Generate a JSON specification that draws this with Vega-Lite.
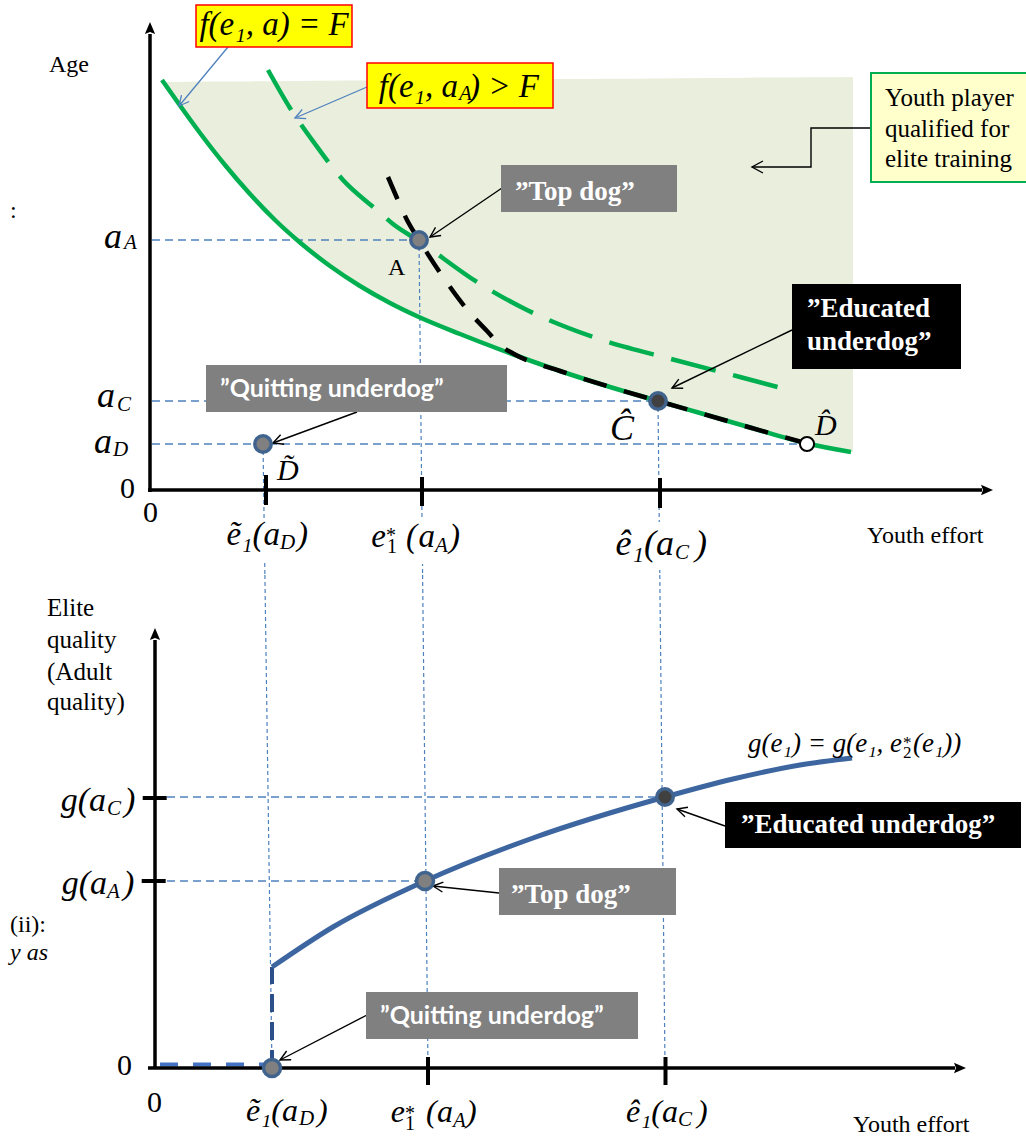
{
"$schema": "https://vega.github.io/schema/vega-lite/v6.json",
"background": "white",
"padding": 0,
"spacing": 0,
"bounds": "flush",
"config": {"view": {"stroke": null}},
"vconcat": [
{
"width": 1026, "height": 575,
"encoding": {
 "x": {"field": "x", "type": "quantitative", "scale": {"domain": [-15, 87.6], "nice": false, "zero": false}, "axis": null},
 "y": {"field": "y", "type": "quantitative", "scale": {"domain": [-8.5, 49], "nice": false, "zero": false}, "axis": null}
},
"layer": [
 {"data": {"values": [
  {"x":1.6,"y":40.4,"y2":40.8},{"x":3.0,"y":38.45,"y2":40.81},{"x":5.0,"y":35.7,"y2":40.82},{"x":7.5,"y":32.5,"y2":40.84},
  {"x":10.0,"y":29.6,"y2":40.86},{"x":12.5,"y":27.0,"y2":40.88},{"x":15.0,"y":24.75,"y2":40.9},{"x":18.0,"y":22.4,"y2":40.92},
  {"x":21.0,"y":20.4,"y2":40.94},{"x":24.0,"y":18.7,"y2":40.96},{"x":27.0,"y":17.25,"y2":40.98},{"x":31.0,"y":15.6,"y2":41.01},
  {"x":35.0,"y":14.05,"y2":41.04},{"x":41.0,"y":11.9,"y2":41.09},{"x":46.0,"y":10.3,"y2":41.12},{"x":50.8,"y":8.9,"y2":41.16},
  {"x":55.0,"y":7.7,"y2":41.19},{"x":60.0,"y":6.25,"y2":41.23},{"x":65.7,"y":4.65,"y2":41.27},{"x":70.3,"y":3.78,"y2":41.3}]},
  "mark": {"type": "area", "color": "#EAEFDD", "interpolate": "monotone"},
  "encoding": {"y2": {"field": "y2"}}},
 {"data": {"values": [
  {"x":0.2,"y":25.0,"x2":26.9,"y2":25.0},{"x":0.2,"y":8.9,"x2":50.8,"y2":8.9},{"x":0.2,"y":4.6,"x2":65.0,"y2":4.6}]},
  "mark": {"type": "rule", "color": "#4F81BD", "strokeWidth": 1.3, "strokeDash": [8, 5]},
  "encoding": {"x2": {"field": "x2"}, "y2": {"field": "y2"}}},
 {"data": {"values": [
  {"x":11.3,"y":4.6,"x2":11.49,"y2":-8.5},{"x":26.9,"y":25.0,"x2":27.26,"y2":-8.5},{"x":50.8,"y":8.9,"x2":50.98,"y2":-8.5}]},
  "mark": {"type": "rule", "color": "#4F81BD", "strokeWidth": 1.2, "strokeDash": [4, 3]},
  "encoding": {"x2": {"field": "x2"}, "y2": {"field": "y2"}}},
 {"data": {"values": [
  {"x":6.8,"x2":16.0,"y":-3.0,"y2":-7.2},{"x":21.5,"x2":31.5,"y":-3.0,"y2":-7.4},{"x":45.0,"x2":56.2,"y":-3.2,"y2":-8.0}]},
  "mark": {"type": "rect", "fill": "white"},
  "encoding": {"x2": {"field": "x2"}, "y2": {"field": "y2"}}},
 {"data": {"values": [
  {"x":1.2,"y":41.0},{"x":3.0,"y":38.45},{"x":5.0,"y":35.7},{"x":7.5,"y":32.5},{"x":10.0,"y":29.6},{"x":12.5,"y":27.0},
  {"x":15.0,"y":24.75},{"x":18.0,"y":22.4},{"x":21.0,"y":20.4},{"x":24.0,"y":18.7},{"x":27.0,"y":17.25},{"x":31.0,"y":15.6},
  {"x":35.0,"y":14.05},{"x":41.0,"y":11.9},{"x":46.0,"y":10.3},{"x":50.8,"y":8.9},{"x":55.0,"y":7.7},{"x":60.0,"y":6.25},
  {"x":65.7,"y":4.65},{"x":70.1,"y":3.8}]},
  "mark": {"type": "line", "color": "#00B050", "strokeWidth": 4.5, "interpolate": "monotone"}},
 {"data": {"values": [
  {"x":11.8,"y":42.0},{"x":14.0,"y":38.2},{"x":16.5,"y":34.6},{"x":19.3,"y":31.0},{"x":22.8,"y":27.9},{"x":24.3,"y":26.6},
  {"x":26.9,"y":24.9},{"x":32.7,"y":20.8},{"x":37.7,"y":18.0},{"x":44.3,"y":15.3},{"x":52.5,"y":13.0},{"x":59.0,"y":11.3},{"x":63.5,"y":10.1}]},
  "mark": {"type": "line", "color": "#00B050", "strokeWidth": 4.5, "interpolate": "monotone", "strokeDash": [46, 18]}},
 {"data": {"values": [
  {"x":23.8,"y":31.3},{"x":24.7,"y":29.2},{"x":25.7,"y":27.0},{"x":26.9,"y":25.0},{"x":29.3,"y":21.3},{"x":32.0,"y":17.7},
  {"x":33.7,"y":15.9},{"x":35.0,"y":14.5},{"x":36.5,"y":13.55},{"x":41.0,"y":11.9},{"x":46.0,"y":10.3},{"x":50.8,"y":8.9},
  {"x":55.0,"y":7.7},{"x":60.0,"y":6.25},{"x":65.7,"y":4.65}]},
  "mark": {"type": "line", "color": "black", "strokeWidth": 4.5, "interpolate": "monotone", "strokeDash": [24, 18]}},
 {"data": {"values": [
  {"x":0,"y":-0.2,"x2":0,"y2":45.6},{"x":-0.2,"y":0,"x2":83.2,"y2":0}]},
  "mark": {"type": "rule", "color": "black", "strokeWidth": 3.5},
  "encoding": {"x2": {"field": "x2"}, "y2": {"field": "y2"}}},
 {"data": {"values": [
  {"x":11.6,"y":-1.5,"x2":11.6,"y2":1.5},{"x":27.2,"y":-1.6,"x2":27.2,"y2":1.3},{"x":51.0,"y":-1.8,"x2":51.0,"y2":1.2}]},
  "mark": {"type": "rule", "color": "black", "strokeWidth": 4},
  "encoding": {"x2": {"field": "x2"}, "y2": {"field": "y2"}}},
 {"data": {"values": [{"x":0,"y":45.66}]},
  "mark": {"type": "point", "shape": "M0,-1L0.45,0.05L0,-0.12L-0.45,0.05Z", "size": 520, "filled": true, "color": "black", "opacity": 1}},
 {"data": {"values": [{"x":83.16,"y":0}]},
  "mark": {"type": "point", "shape": "M1,0L-0.05,0.45L0.12,0L-0.05,-0.45Z", "size": 520, "filled": true, "color": "black", "opacity": 1}},
 {"data": {"values": [
  {"id":"a1","o":1,"x":35.2,"y":30.2},{"id":"a1","o":2,"x":28.0,"y":25.3},
  {"id":"h1","o":1,"x":29.11,"y":25.45},{"id":"h1","o":2,"x":28.0,"y":25.3},{"id":"h1","o":3,"x":28.55,"y":26.27},
  {"id":"a4","o":1,"x":72.1,"y":36.2},{"id":"a4","o":2,"x":66.1,"y":36.2},{"id":"a4","o":3,"x":66.1,"y":32.3},{"id":"a4","o":4,"x":60.2,"y":32.3},
  {"id":"h4","o":1,"x":61.3,"y":32.9},{"id":"h4","o":2,"x":60.2,"y":32.3},{"id":"h4","o":3,"x":61.3,"y":31.7},
  {"id":"a5","o":1,"x":64.2,"y":16.0},{"id":"a5","o":2,"x":52.2,"y":10.2},
  {"id":"h5","o":1,"x":53.32,"y":10.18},{"id":"h5","o":2,"x":52.2,"y":10.2},{"id":"h5","o":3,"x":52.88,"y":11.09},
  {"id":"a6","o":1,"x":20.7,"y":7.8},{"id":"a6","o":2,"x":12.3,"y":4.7},
  {"id":"h6","o":1,"x":13.41,"y":4.58},{"id":"h6","o":2,"x":12.3,"y":4.7},{"id":"h6","o":3,"x":13.06,"y":5.52}]},
  "mark": {"type": "line", "color": "black", "strokeWidth": 1.4},
  "encoding": {"detail": {"field": "id"}, "order": {"field": "o"}}},
 {"data": {"values": [
  {"id":"a2","o":1,"x":7.8,"y":44.3},{"id":"a2","o":2,"x":2.9,"y":38.4},
  {"id":"h2","o":1,"x":3.92,"y":38.85},{"id":"h2","o":2,"x":2.9,"y":38.4},{"id":"h2","o":3,"x":3.15,"y":39.49},
  {"id":"a3","o":1,"x":21.7,"y":40.3},{"id":"a3","o":2,"x":14.5,"y":37.2},
  {"id":"h3","o":1,"x":15.62,"y":37.14},{"id":"h3","o":2,"x":14.5,"y":37.2},{"id":"h3","o":3,"x":15.22,"y":38.05}]},
  "mark": {"type": "line", "color": "#4F81BD", "strokeWidth": 1.3},
  "encoding": {"detail": {"field": "id"}, "order": {"field": "o"}}},
 {"data": {"values": [
  {"x":4.6,"x2":20.2,"y":48.5,"y2":44.3},{"x":21.7,"x2":40.3,"y":42.7,"y2":38.2}]},
  "mark": {"type": "rect", "fill": "#FFFF00", "stroke": "#FF0000", "strokeWidth": 1.5},
  "encoding": {"x2": {"field": "x2"}, "y2": {"field": "y2"}}},
 {"data": {"values": [{"x":72.1,"x2":90,"y":41.7,"y2":30.8}]},
  "mark": {"type": "rect", "fill": "#FFFFCC", "stroke": "#00B050", "strokeWidth": 2, "clip": true},
  "encoding": {"x2": {"field": "x2"}, "y2": {"field": "y2"}}},
 {"data": {"values": [{"x":35.1,"x2":52.7,"y":32.5,"y2":27.8},{"x":5.6,"x2":35.7,"y":12.5,"y2":7.8}]},
  "mark": {"type": "rect", "fill": "#808080"},
  "encoding": {"x2": {"field": "x2"}, "y2": {"field": "y2"}}},
 {"data": {"values": [{"x":64.2,"x2":81.1,"y":20.6,"y2":12.1}]},
  "mark": {"type": "rect", "fill": "black"},
  "encoding": {"x2": {"field": "x2"}, "y2": {"field": "y2"}}},
 {"data": {"values": [{"x":26.9,"y":25.0},{"x":11.3,"y":4.6}]},
  "mark": {"type": "point", "shape": "circle", "size": 270, "filled": true, "fill": "#808080", "stroke": "#41648F", "strokeWidth": 3.5, "opacity": 1}},
 {"data": {"values": [{"x":50.8,"y":8.9}]},
  "mark": {"type": "point", "shape": "circle", "size": 270, "filled": true, "fill": "#404040", "stroke": "#41648F", "strokeWidth": 3.5, "opacity": 1}},
 {"data": {"values": [{"x":65.7,"y":4.6}]},
  "mark": {"type": "point", "shape": "circle", "size": 200, "filled": true, "fill": "white", "stroke": "black", "strokeWidth": 2, "opacity": 1}},
 {"data": {"values": [{"x":30.8,"y":39.3,"t":"f(e₁, a"},{"x":13.0,"y":-5.5,"t":"ẽ₁(a"},{"x":23.6,"y":-5.7,"t":"e"},{"x":28.5,"y":-5.7,"t":"a"}]},
  "mark": {"type": "text", "font": "Liberation Serif", "fontStyle": "italic", "fontSize": 33, "align": "right", "baseline": "alphabetic", "color": "black"},
  "encoding": {"text": {"field": "t"}}},
 {"data": {"values": [{"x":31.9,"y":39.3,"t":") > F"},{"x":14.7,"y":-5.5,"t":")"},{"x":29.9,"y":-5.7,"t":")"},{"x":25.6,"y":-5.7,"t":"("}]},
  "mark": {"type": "text", "font": "Liberation Serif", "fontStyle": "italic", "fontSize": 33, "align": "left", "baseline": "alphabetic", "color": "black"},
  "encoding": {"text": {"field": "t"}}},
 {"data": {"values": [{"x":12.4,"y":45.5,"t":"f(e₁, a) = F"}]},
  "mark": {"type": "text", "font": "Liberation Serif", "fontStyle": "italic", "fontSize": 33, "align": "center", "baseline": "alphabetic", "color": "black"},
  "encoding": {"text": {"field": "t"}}},
 {"data": {"values": [{"x":-2.8,"y":24.2,"t":"a"},{"x":-3.5,"y":8.3,"t":"a"},{"x":-3.8,"y":3.7,"t":"a"},{"x":52.4,"y":-6.5,"t":"ê₁(a"}]},
  "mark": {"type": "text", "font": "Liberation Serif", "fontStyle": "italic", "fontSize": 36, "align": "right", "baseline": "alphabetic", "color": "black"},
  "encoding": {"text": {"field": "t"}}},
 {"data": {"values": [{"x":46.0,"y":5.0,"t":"Ĉ"},{"x":54.5,"y":-6.5,"t":")"}]},
  "mark": {"type": "text", "font": "Liberation Serif", "fontStyle": "italic", "fontSize": 36, "align": "left", "baseline": "alphabetic", "color": "black"},
  "encoding": {"text": {"field": "t"}}},
 {"data": {"values": [{"x":30.9,"y":39.0,"t":"A"},{"x":-2.6,"y":24.1,"t":"A"},{"x":-3.3,"y":7.9,"t":"C"},{"x":-3.7,"y":3.4,"t":"D"},{"x":13.0,"y":-5.9,"t":"D"},{"x":28.5,"y":-6.2,"t":"A"},{"x":52.5,"y":-6.9,"t":"C"}]},
  "mark": {"type": "text", "font": "Liberation Serif", "fontStyle": "italic", "fontSize": 21, "align": "left", "baseline": "alphabetic", "color": "black"},
  "encoding": {"text": {"field": "t"}}},
 {"data": {"values": [{"x":66.5,"y":5.5,"t":"D̂"},{"x":12.7,"y":1.0,"t":"D̃"}]},
  "mark": {"type": "text", "font": "Liberation Serif", "fontStyle": "italic", "fontSize": 30, "align": "left", "baseline": "alphabetic", "color": "black"},
  "encoding": {"text": {"field": "t"}}},
 {"data": {"values": [{"x":23.6,"y":-5.2,"t":"*"},{"x":23.7,"y":-6.3,"t":"1"}]},
  "mark": {"type": "text", "font": "Liberation Serif", "fontSize": 20, "align": "left", "baseline": "alphabetic", "color": "black"},
  "encoding": {"text": {"field": "t"}}},
 {"data": {"values": [{"x":-3.0,"y":-0.8,"t":"0"},{"x":-0.7,"y":-3.2,"t":"0"}]},
  "mark": {"type": "text", "font": "Liberation Serif", "fontSize": 30, "align": "left", "baseline": "alphabetic", "color": "black"},
  "encoding": {"text": {"field": "t"}}},
 {"data": {"values": [{"x":-10.1,"y":41.8,"t":"Age"},{"x":23.8,"y":21.5,"t":"A"},{"x":71.7,"y":-5.3,"t":"Youth effort"},{"x":-14,"y":27.2,"t":":"}]},
  "mark": {"type": "text", "font": "Liberation Serif", "fontSize": 24, "align": "left", "baseline": "alphabetic", "color": "black"},
  "encoding": {"text": {"field": "t"}}},
 {"data": {"values": [{"x":73.5,"y":38.4,"t":"Youth player"},{"x":73.5,"y":35.3,"t":"qualified for"},{"x":73.5,"y":32.3,"t":"elite training"}]},
  "mark": {"type": "text", "font": "Liberation Serif", "fontSize": 25, "align": "left", "baseline": "alphabetic", "color": "black", "clip": true},
  "encoding": {"text": {"field": "t"}}},
 {"data": {"values": [{"x":36.5,"y":29.0,"t":"”Top dog”"},{"x":65.7,"y":17.3,"t":"”Educated"},{"x":65.7,"y":14.0,"t":"underdog”"}]},
  "mark": {"type": "text", "font": "Liberation Serif", "fontWeight": "bold", "fontSize": 27, "align": "left", "baseline": "alphabetic", "color": "white"},
  "encoding": {"text": {"field": "t"}}},
 {"data": {"values": [{"x":7.0,"y":9.3,"t":"”Quitting underdog”"}]},
  "mark": {"type": "text", "font": "Lato", "fontWeight": "bold", "fontSize": 25, "align": "left", "baseline": "alphabetic", "color": "white"},
  "encoding": {"text": {"field": "t"}}}
]
},
{
"width": 1026, "height": 565,
"encoding": {
 "x": {"field": "x", "type": "quantitative", "scale": {"domain": [-15.7, 86.9], "nice": false, "zero": false}, "axis": null},
 "y": {"field": "y", "type": "quantitative", "scale": {"domain": [-7.2, 49.3], "nice": false, "zero": false}, "axis": null}
},
"layer": [
 {"data": {"values": [{"x":1.0,"y":27.1,"x2":50.8,"y2":27.1},{"x":1.0,"y":18.7,"x2":26.8,"y2":18.7}]},
  "mark": {"type": "rule", "color": "#4F81BD", "strokeWidth": 1.3, "strokeDash": [8, 5]},
  "encoding": {"x2": {"field": "x2"}, "y2": {"field": "y2"}}},
 {"data": {"values": [{"x":10.79,"y":49.3,"x2":11.5,"y2":0},{"x":26.56,"y":49.3,"x2":27.1,"y2":0},{"x":50.28,"y":49.3,"x2":50.8,"y2":0.3}]},
  "mark": {"type": "rule", "color": "#4F81BD", "strokeWidth": 1.2, "strokeDash": [4, 3]},
  "encoding": {"x2": {"field": "x2"}, "y2": {"field": "y2"}}},
 {"data": {"values": [{"x":11.5,"y":0,"x2":11.5,"y2":10.1}]},
  "mark": {"type": "rule", "color": "#2B4F87", "strokeWidth": 4, "strokeDash": [18, 10]},
  "encoding": {"x2": {"field": "x2"}, "y2": {"field": "y2"}}},
 {"data": {"values": [{"x":0.3,"y":0.35,"x2":11.5,"y2":0.35}]},
  "mark": {"type": "rule", "color": "#4472C4", "strokeWidth": 4, "strokeDash": [18, 15]},
  "encoding": {"x2": {"field": "x2"}, "y2": {"field": "y2"}}},
 {"data": {"values": [
  {"x":11.5,"y":10.1},{"x":17.6,"y":14.1},{"x":26.8,"y":18.7},{"x":37.6,"y":23.0},{"x":50.8,"y":27.1},{"x":57.6,"y":28.9},{"x":64.3,"y":30.3},{"x":69.5,"y":31.0}]},
  "mark": {"type": "line", "color": "#3D66A0", "strokeWidth": 5, "interpolate": "monotone"}},
 {"data": {"values": [{"x":-0.2,"y":0,"x2":-0.2,"y2":42.8},{"x":-0.9,"y":0,"x2":79.8,"y2":0}]},
  "mark": {"type": "rule", "color": "black", "strokeWidth": 3.5},
  "encoding": {"x2": {"field": "x2"}, "y2": {"field": "y2"}}},
 {"data": {"values": [
  {"x":-1.43,"y":27.0,"x2":0.97,"y2":27.0},{"x":-1.53,"y":18.7,"x2":0.87,"y2":18.7},{"x":27.1,"y":-1.7,"x2":27.1,"y2":1.1},{"x":50.85,"y":-1.7,"x2":50.85,"y2":1.1}]},
  "mark": {"type": "rule", "color": "black", "strokeWidth": 4},
  "encoding": {"x2": {"field": "x2"}, "y2": {"field": "y2"}}},
 {"data": {"values": [{"x":-0.2,"y":42.86}]},
  "mark": {"type": "point", "shape": "M0,-1L0.45,0.05L0,-0.12L-0.45,0.05Z", "size": 520, "filled": true, "color": "black", "opacity": 1}},
 {"data": {"values": [{"x":79.76,"y":0}]},
  "mark": {"type": "point", "shape": "M1,0L-0.05,0.45L0.12,0L-0.05,-0.45Z", "size": 520, "filled": true, "color": "black", "opacity": 1}},
 {"data": {"values": [
  {"id":"b7","o":1,"x":56.8,"y":24.2},{"id":"b7","o":2,"x":52.0,"y":25.9},
  {"id":"g7","o":1,"x":52.8,"y":25.12},{"id":"g7","o":2,"x":52.0,"y":25.9},{"id":"g7","o":3,"x":53.1,"y":26.08},
  {"id":"b8","o":1,"x":34.2,"y":17.5},{"id":"b8","o":2,"x":27.6,"y":18.2},
  {"id":"g8","o":1,"x":28.54,"y":17.6},{"id":"g8","o":2,"x":27.6,"y":18.2},{"id":"g8","o":3,"x":28.64,"y":18.59},
  {"id":"b9","o":1,"x":21.0,"y":5.3},{"id":"b9","o":2,"x":12.3,"y":0.8},
  {"id":"g9","o":1,"x":13.42,"y":0.82},{"id":"g9","o":2,"x":12.3,"y":0.8},{"id":"g9","o":3,"x":12.96,"y":1.7}]},
  "mark": {"type": "line", "color": "black", "strokeWidth": 1.4},
  "encoding": {"detail": {"field": "id"}, "order": {"field": "o"}}},
 {"data": {"values": [{"x":56.8,"x2":86.4,"y":26.6,"y2":22.0}]},
  "mark": {"type": "rect", "fill": "black"},
  "encoding": {"x2": {"field": "x2"}, "y2": {"field": "y2"}}},
 {"data": {"values": [{"x":34.2,"x2":51.9,"y":20.0,"y2":15.3},{"x":20.9,"x2":48.1,"y":7.6,"y2":2.9}]},
  "mark": {"type": "rect", "fill": "#808080"},
  "encoding": {"x2": {"field": "x2"}, "y2": {"field": "y2"}}},
 {"data": {"values": [{"x":11.5,"y":0},{"x":26.8,"y":18.7}]},
  "mark": {"type": "point", "shape": "circle", "size": 290, "filled": true, "fill": "#808080", "stroke": "#41648F", "strokeWidth": 3.5, "opacity": 1}},
 {"data": {"values": [{"x":50.8,"y":27.1}]},
  "mark": {"type": "point", "shape": "circle", "size": 270, "filled": true, "fill": "#404040", "stroke": "#41648F", "strokeWidth": 3.5, "opacity": 1}},
 {"data": {"values": [{"x":-11.0,"y":45.2,"t":"Elite"},{"x":-11.0,"y":42.0,"t":"quality"},{"x":-11.0,"y":38.8,"t":"(Adult"},{"x":-11.0,"y":35.8,"t":"quality)"}]},
  "mark": {"type": "text", "font": "Liberation Serif", "fontSize": 25, "align": "left", "baseline": "alphabetic", "color": "black"},
  "encoding": {"text": {"field": "t"}}},
 {"data": {"values": [{"x":-14.7,"y":13.6,"t":"(ii):"},{"x":69.6,"y":-6.4,"t":"Youth effort"}]},
  "mark": {"type": "text", "font": "Liberation Serif", "fontSize": 24, "align": "left", "baseline": "alphabetic", "color": "black"},
  "encoding": {"text": {"field": "t"}}},
 {"data": {"values": [{"x":-14.7,"y":10.8,"t":"y as"}]},
  "mark": {"type": "text", "font": "Liberation Serif", "fontStyle": "italic", "fontSize": 24, "align": "left", "baseline": "alphabetic", "color": "black"},
  "encoding": {"text": {"field": "t"}}},
 {"data": {"values": [{"x":-5.1,"y":25.7,"t":"g(a"},{"x":-5.0,"y":17.4,"t":"g(a"}]},
  "mark": {"type": "text", "font": "Liberation Serif", "fontStyle": "italic", "fontSize": 34, "align": "right", "baseline": "alphabetic", "color": "black"},
  "encoding": {"text": {"field": "t"}}},
 {"data": {"values": [{"x":-3.3,"y":25.7,"t":")"},{"x":-3.4,"y":17.4,"t":")"}]},
  "mark": {"type": "text", "font": "Liberation Serif", "fontStyle": "italic", "fontSize": 34, "align": "left", "baseline": "alphabetic", "color": "black"},
  "encoding": {"text": {"field": "t"}}},
 {"data": {"values": [{"x":-5.0,"y":25.3,"t":"C"},{"x":-5.0,"y":17.0,"t":"A"},{"x":14.2,"y":-5.7,"t":"D"},{"x":29.6,"y":-5.9,"t":"A"},{"x":52.1,"y":-5.8,"t":"C"}]},
  "mark": {"type": "text", "font": "Liberation Serif", "fontStyle": "italic", "fontSize": 21, "align": "left", "baseline": "alphabetic", "color": "black"},
  "encoding": {"text": {"field": "t"}}},
 {"data": {"values": [{"x":-4.0,"y":-0.7,"t":"0"},{"x":-1.0,"y":-4.4,"t":"0"}]},
  "mark": {"type": "text", "font": "Liberation Serif", "fontSize": 30, "align": "left", "baseline": "alphabetic", "color": "black"},
  "encoding": {"text": {"field": "t"}}},
 {"data": {"values": [{"x":14.1,"y":-5.3,"t":"ẽ₁(a"},{"x":24.8,"y":-5.4,"t":"e"},{"x":29.6,"y":-5.4,"t":"a"},{"x":52.1,"y":-5.4,"t":"ê₁(a"}]},
  "mark": {"type": "text", "font": "Liberation Serif", "fontStyle": "italic", "fontSize": 32, "align": "right", "baseline": "alphabetic", "color": "black"},
  "encoding": {"text": {"field": "t"}}},
 {"data": {"values": [{"x":16.0,"y":-5.3,"t":")"},{"x":30.9,"y":-5.4,"t":")"},{"x":54.0,"y":-5.4,"t":")"},{"x":26.9,"y":-5.4,"t":"("}]},
  "mark": {"type": "text", "font": "Liberation Serif", "fontStyle": "italic", "fontSize": 32, "align": "left", "baseline": "alphabetic", "color": "black"},
  "encoding": {"text": {"field": "t"}}},
 {"data": {"values": [{"x":24.8,"y":-5.2,"t":"*"},{"x":24.8,"y":-6.2,"t":"1"}]},
  "mark": {"type": "text", "font": "Liberation Serif", "fontSize": 20, "align": "left", "baseline": "alphabetic", "color": "black"},
  "encoding": {"text": {"field": "t"}}},
 {"data": {"values": [{"x":74.5,"y":31.6,"t":"g(e₁) = g(e₁, e"}]},
  "mark": {"type": "text", "font": "Liberation Serif", "fontStyle": "italic", "fontSize": 27, "align": "right", "baseline": "alphabetic", "color": "black"},
  "encoding": {"text": {"field": "t"}}},
 {"data": {"values": [{"x":75.6,"y":31.6,"t":"(e₁))"}]},
  "mark": {"type": "text", "font": "Liberation Serif", "fontStyle": "italic", "fontSize": 27, "align": "left", "baseline": "alphabetic", "color": "black"},
  "encoding": {"text": {"field": "t"}}},
 {"data": {"values": [{"x":74.6,"y":31.0,"t":"2"},{"x":74.6,"y":32.0,"t":"*"}]},
  "mark": {"type": "text", "font": "Liberation Serif", "fontSize": 17, "align": "left", "baseline": "alphabetic", "color": "black"},
  "encoding": {"text": {"field": "t"}}},
 {"data": {"values": [{"x":58.4,"y":23.5,"t":"”Educated underdog”"},{"x":35.4,"y":16.5,"t":"”Top dog”"}]},
  "mark": {"type": "text", "font": "Liberation Serif", "fontWeight": "bold", "fontSize": 27, "align": "left", "baseline": "alphabetic", "color": "white"},
  "encoding": {"text": {"field": "t"}}},
 {"data": {"values": [{"x":22.3,"y":4.4,"t":"”Quitting underdog”"}]},
  "mark": {"type": "text", "font": "Lato", "fontWeight": "bold", "fontSize": 25, "align": "left", "baseline": "alphabetic", "color": "white"},
  "encoding": {"text": {"field": "t"}}}
]
}
]
}
